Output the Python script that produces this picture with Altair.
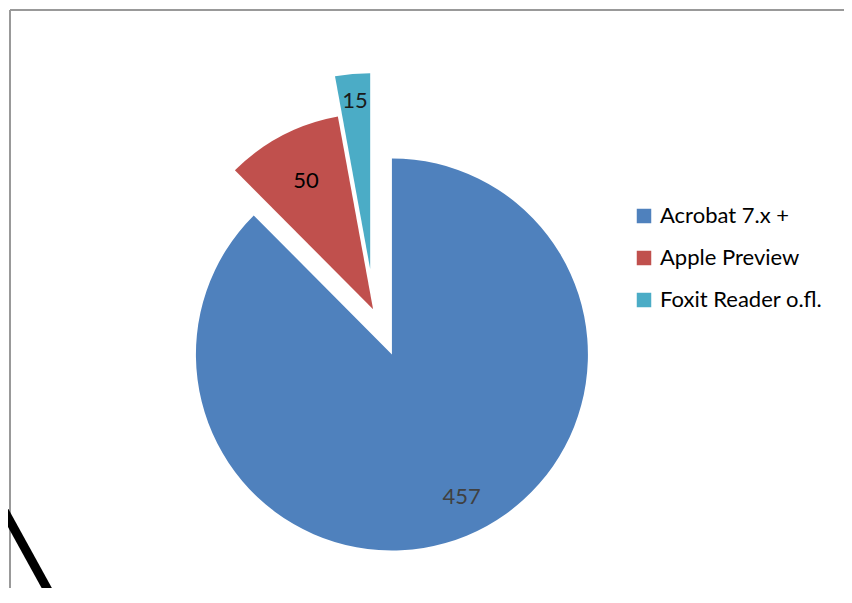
import altair as alt
import pandas as pd

# ---- data ----
categories = ["Acrobat 7.x +", "Apple Preview", "Foxit Reader o.fl."]
counts = [457, 50, 15]

# ---- styles ----
colors = ["#4F81BD", "#C0504D", "#4BACC6"]
explode = [47, 2, 42]          # radial explosion of each slice (px)
label_radius = [159, 145, 169]  # label distance from slice vertex (px)
label_turn = [-3.6, 0, 0]       # small angular nudge of labels (degrees)
label_colors = ["#404040", "#000000", "#1a1a1a"]
FONT = "Lato"

W, H = 836, 580
CX, CY = 366, 303
R = 196

df = pd.DataFrame({
    "browser": categories,
    "count": counts,
    "order": list(range(len(categories))),
    "explode": explode,
    "lr": label_radius,
    "lt": label_turn,
    "lc": label_colors,
})

base = alt.Chart(df).transform_window(
    cum="sum(count)", sort=[alt.SortField("order")], frame=[None, 0]
).transform_joinaggregate(
    total="sum(count)"
).transform_calculate(
    t0="2*PI*(datum.cum - datum.count)/datum.total",
    t1="2*PI*datum.cum/datum.total",
    mid="2*PI*(datum.cum - datum.count/2)/datum.total",
).transform_calculate(
    cx=f"{CX} + datum.explode*sin(datum.mid)",
    cy=f"{CY} - datum.explode*cos(datum.mid)",
    lm="datum.mid + datum.lt*PI/180",
).transform_calculate(
    lx="datum.cx + datum.lr*sin(datum.lm)",
    ly="datum.cy - datum.lr*cos(datum.lm)",
)

arcs = base.mark_arc(outerRadius=R, strokeWidth=0).encode(
    theta=alt.Theta("t0:Q", scale=None, stack=False),
    theta2="t1:Q",
    x=alt.X("cx:Q", scale=None, stack=False),
    y=alt.Y("cy:Q", scale=None, stack=False),
    color=alt.Color(
        "browser:N",
        scale=alt.Scale(domain=categories, range=colors),
        legend=alt.Legend(
            title=None, orient="none", legendX=625, legendY=197,
            symbolType="square", symbolSize=210, symbolStrokeWidth=0,
            labelFontSize=22, labelFont=FONT, labelColor="#000000",
            labelLimit=400, rowPadding=20, labelOffset=5, padding=0,
        ),
    ),
)

labels = base.mark_text(font=FONT, fontSize=22, align="center", baseline="middle").encode(
    x=alt.X("lx:Q", scale=None, stack=False),
    y=alt.Y("ly:Q", scale=None, stack=False),
    text=alt.Text("count:Q"),
    color=alt.Color("lc:N", scale=None),
)

deco = alt.Chart(pd.DataFrame({"d": [0]}))
frame_top = deco.mark_rule(color="#999999", strokeWidth=2).encode(
    x=alt.value(2), x2=alt.value(W), y=alt.value(2))
frame_left = deco.mark_rule(color="#999999", strokeWidth=2).encode(
    x=alt.value(2), y=alt.value(2), y2=alt.value(H))
diag = deco.mark_rule(color="#000000", strokeWidth=9).encode(
    x=alt.value(-8), y=alt.value(495), x2=alt.value(58), y2=alt.value(615))

chart = alt.layer(frame_top, frame_left, arcs, labels, diag).properties(
    width=W, height=H, padding=0,
    autosize=alt.AutoSizeParams(type="none"),
).configure_view(strokeWidth=0)

chart.save("out.html", embed_options={"renderer": "svg", "actions": False})
